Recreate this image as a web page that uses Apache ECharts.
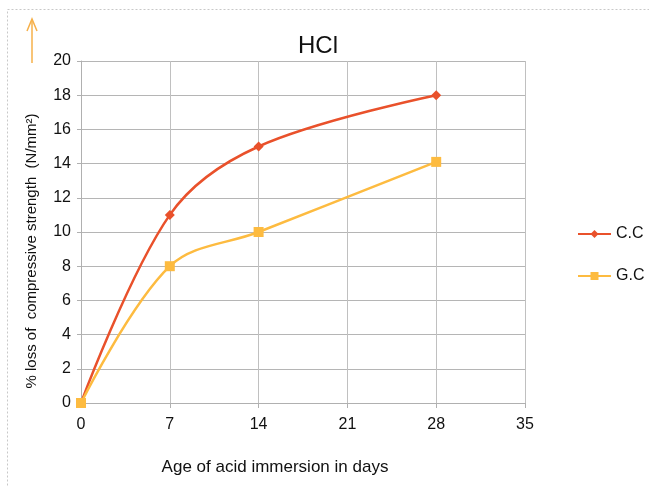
<!DOCTYPE html>
<html>
	<head>
		<meta charset="utf-8">
		<title></title>
		<script src="https://cdn.jsdelivr.net/npm/echarts@6/dist/echarts.min.js"></script>
		<style>
			html, body { margin: 0; padding: 0; background: #fff; }
		</style>
	</head>
	<body>
		<div id="myChart" style="width: 649px;height:487px;"></div>
	</body>
	<script type="text/javascript">
	var days = [0, 7, 14, 28];
	var ccValues = [0, 11, 15, 18];
	var gcValues = [0, 8, 10, 14.1];
	var xTicks = [0, 7, 14, 21, 28, 35];

	function pairs(xs, ys) {
		return xs.map(function (x, i) { return [x, ys[i]]; });
	}

	var font = "'Liberation Sans Narrow', 'Liberation Sans', Arial, sans-serif";
	var myChart = echarts.init(document.getElementById('myChart'));
	var option = {
		animation: false,
		title: {
			text: 'HCl',
			left: 313,
			top: 29,
			textAlign: 'center',
			textStyle: { fontFamily: font, fontSize: 24, fontWeight: 'normal', color: '#111' }
		},
		legend: {
			orient: 'vertical',
			left: 572,
			top: 221,
			itemGap: 26,
			itemWidth: 33,
			itemHeight: 10,
			textStyle: { fontFamily: font, fontSize: 16, color: '#111' },
			data: ['C.C', 'G.C']
		},
		grid: { left: 81, right: 124, top: 61, bottom: 84 },
		xAxis: {
			type: 'value',
			min: 0,
			max: 35,
			interval: 7,
			name: 'Age of acid immersion in days',
			nameLocation: 'middle',
			nameGap: 56,
			nameTextStyle: { fontFamily: font, fontSize: 17, color: '#111', padding: [0, 56, 0, 0] },
			axisLine: { lineStyle: { color: '#b0b0b0' } },
			axisTick: { show: true, length: 5, lineStyle: { color: '#b0b0b0' } },
			axisLabel: { fontFamily: font, fontSize: 16, color: '#111', margin: 14 },
			splitLine: { show: true, lineStyle: { color: '#c0c0c0' } }
		},
		yAxis: {
			type: 'value',
			min: 0,
			max: 20,
			interval: 2,
			name: '% loss of  compressive strength  (N/mm\u00b2)',
			nameLocation: 'middle',
			nameGap: 42,
			nameTextStyle: { fontFamily: font, fontSize: 15, color: '#111', padding: [0, 38, 0, 0] },
			axisLine: { show: true, lineStyle: { color: '#b0b0b0' } },
			axisTick: { show: true, length: 4, lineStyle: { color: '#b0b0b0' } },
			axisLabel: { fontFamily: font, fontSize: 16, color: '#111', margin: 10 },
			splitLine: { show: true, lineStyle: { color: '#b5b5b5' } }
		},
		series: [
			{
				name: 'C.C',
				type: 'line',
				smooth: 0.35,
				data: pairs(days, ccValues),
				symbol: 'diamond',
				symbolSize: 10,
				color: '#e9512b',
				lineStyle: { width: 2.5 }
			},
			{
				name: 'G.C',
				type: 'line',
				smooth: 0.35,
				data: pairs(days, gcValues),
				symbol: 'rect',
				symbolSize: 10,
				color: '#fdbb40',
				lineStyle: { width: 2.5 }
			}
		],
		graphic: [
			{
				type: 'rect',
				shape: { x: 7.5, y: 9.5, width: 660, height: 500 },
				style: { fill: 'none', stroke: '#c8c8c8', lineWidth: 1, lineDash: [2, 2] }
			},
			{
				type: 'line',
				shape: { x1: 32, y1: 19, x2: 32, y2: 63 },
				style: { stroke: '#f6b04a', lineWidth: 1.5 }
			},
			{
				type: 'polyline',
				shape: { points: [[27, 31], [32, 19], [37, 31]] },
				style: { stroke: '#f6b04a', lineWidth: 1.5, fill: 'none' }
			}
		]
	};
	myChart.setOption(option);
	</script>
</html>
